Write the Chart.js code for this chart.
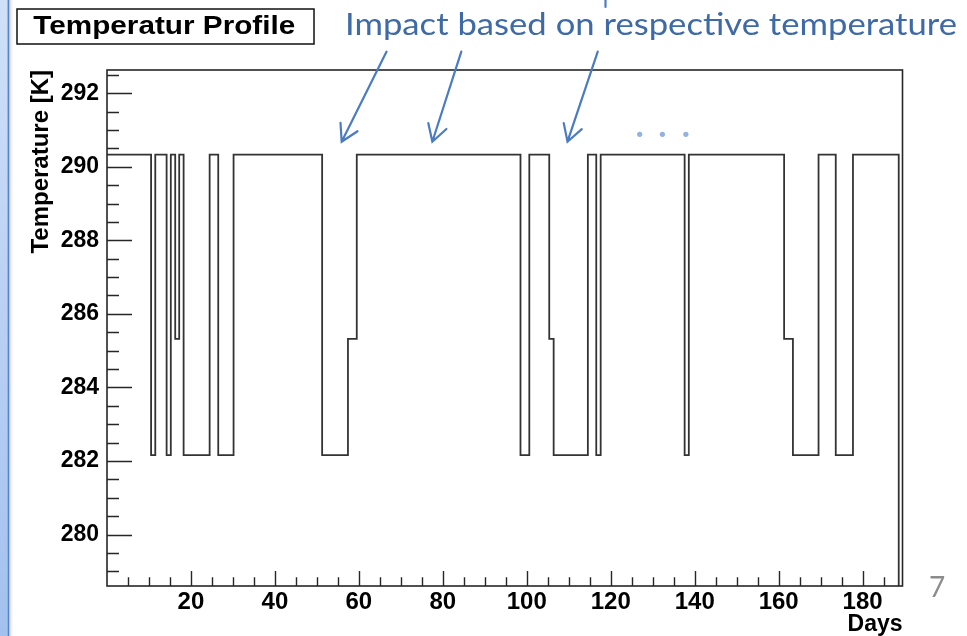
<!DOCTYPE html>
<html>
<head>
<meta charset="utf-8">
<title>Temperatur Profile</title>
<style>
  html, body { margin: 0; padding: 0; background: #fff; }
  canvas { display: block; }
</style>
<script src="https://cdn.jsdelivr.net/npm/chart.js@4.4.1/dist/chart.umd.min.js"></script>
</head>
<body>
<canvas id="profile" width="967" height="636"></canvas>
<script>
// Step profile: each temperature holds from its start day until the next start day.
const dayStarts = [0, 10.5, 11.5, 14.2, 15.2, 16.25, 17.2, 18.25, 24.45, 26.5, 30.15,
  51.25, 57.4, 59.5, 98.5, 100.6, 105.35, 106.4, 114.55, 116.55, 117.6,
  137.6, 138.6, 161.3, 163.4, 169.5, 173.6, 177.7, 188.6];
const temperatures = [290.33, 282.16, 290.33, 282.16, 290.33, 285.32, 290.33, 282.16, 290.33, 282.16, 290.33,
  282.16, 285.32, 290.33, 282.16, 290.33, 285.32, 282.16, 290.33, 282.16, 290.33,
  282.16, 290.33, 285.32, 282.16, 290.33, 282.16, 290.33, 0];
const lastDay = 189.5;

// Axis ranges and labelled ticks
const xRange = [0, 189.5];
const yRange = [278.6, 292.63];
const xTicks = [20, 40, 60, 80, 100, 120, 140, 160, 180];
const yTicks = [280, 282, 284, 286, 288, 290, 292];
const xMinorStep = 5;
const yMinorStep = 0.5;

// Texts
const chartTitle = 'Temperatur Profile';
const xTitle = 'Days';
const yTitle = 'Temperature [K]';
const noteText = 'Impact based on respective temperature';
const pageNumber = '7';

// Callout arrows in axis units: [fromDay, fromK, toDay, toK]
const noteArrows = [
  [66.6, 293.13, 55.9, 290.68],
  [84.4, 293.13, 77.5, 290.68],
  [116.9, 293.13, 109.7, 290.68]
];
const ellipsisDays = [126.9, 132.3, 137.9];
const ellipsisK = 290.88;

const points = dayStarts.map((d, i) => ({ x: d, y: temperatures[i] }));
points.push({ x: lastDay, y: temperatures[temperatures.length - 1] });

const ROOT_FONT = 'Liberation Sans, Arial, Helvetica, sans-serif';
const NOTE_FONT = 'Lato, "Open Sans", sans-serif';
const NOTE_BLUE = '#3e6aa6';
const ARROW_BLUE = '#4b7cc1';

function fitText(ctx, text, x, baseline, font, width) {
  ctx.font = font;
  const w = ctx.measureText(text).width;
  ctx.save();
  ctx.translate(x, baseline);
  ctx.scale(width / w, 1);
  ctx.textAlign = 'left';
  ctx.textBaseline = 'alphabetic';
  ctx.fillText(text, 0, 0);
  ctx.restore();
}

const decorations = {
  id: 'decorations',
  beforeDraw(chart) {
    const ctx = chart.ctx;
    ctx.save();
    ctx.fillStyle = '#fff';
    ctx.fillRect(0, 0, chart.width, chart.height);
    ctx.restore();
  },
  afterDraw(chart) {
    const { ctx, chartArea: a, scales: { x, y } } = chart;
    ctx.save();

    // frame
    ctx.strokeStyle = '#262626';
    ctx.lineWidth = 1.6;
    ctx.strokeRect(a.left, a.top, a.right - a.left, a.bottom - a.top);

    // inward tick marks, left axis
    ctx.lineWidth = 1.4;
    ctx.beginPath();
    for (let v = Math.ceil(yRange[0] / yMinorStep) * yMinorStep; v <= yRange[1]; v += yMinorStep) {
      const py = Math.round(y.getPixelForValue(v)) + 0.5;
      const len = yTicks.includes(Math.round(v * 100) / 100) ? 25 : 12;
      ctx.moveTo(a.left, py);
      ctx.lineTo(a.left + len, py);
    }
    // inward tick marks, bottom axis
    for (let v = xMinorStep; v < xRange[1]; v += xMinorStep) {
      const px = Math.round(x.getPixelForValue(v)) + 0.5;
      const len = xTicks.includes(v) ? 15 : 8.7;
      ctx.moveTo(px, a.bottom);
      ctx.lineTo(px, a.bottom - len);
    }
    ctx.stroke();

    // title box
    ctx.fillStyle = '#fff';
    ctx.fillRect(17, 9, 297, 35);
    ctx.strokeStyle = '#111';
    ctx.lineWidth = 1.5;
    ctx.strokeRect(17, 9, 297, 35);
    ctx.fillStyle = '#000';
    fitText(ctx, chartTitle, 33.3, 33.6, 'bold 26px ' + ROOT_FONT, 262);

    // callout text
    ctx.fillStyle = NOTE_BLUE;
    fitText(ctx, noteText, 345, 35, '31.5px ' + NOTE_FONT, 612);

    // callout arrows
    ctx.strokeStyle = ARROW_BLUE;
    ctx.lineWidth = 2.2;
    ctx.lineCap = 'round';
    noteArrows.forEach(([d0, k0, d1, k1]) => {
      const x0 = x.getPixelForValue(d0), y0 = y.getPixelForValue(k0);
      const x1 = x.getPixelForValue(d1), y1 = y.getPixelForValue(k1);
      const ang = Math.atan2(y0 - y1, x0 - x1);
      const head = 19, spread = Math.PI / 6;
      ctx.beginPath();
      ctx.moveTo(x0, y0);
      ctx.lineTo(x1, y1);
      ctx.moveTo(x1 + head * Math.cos(ang - spread), y1 + head * Math.sin(ang - spread));
      ctx.lineTo(x1, y1);
      ctx.lineTo(x1 + head * Math.cos(ang + spread), y1 + head * Math.sin(ang + spread));
      ctx.stroke();
    });
    ctx.beginPath();
    ctx.moveTo(605.5, 0);
    ctx.lineTo(605.5, 7);
    ctx.stroke();

    // ellipsis dots
    ctx.fillStyle = '#93b2de';
    ellipsisDays.forEach(d => {
      ctx.beginPath();
      ctx.arc(x.getPixelForValue(d), y.getPixelForValue(ellipsisK), 2.6, 0, Math.PI * 2);
      ctx.fill();
    });

    // page number
    ctx.fillStyle = '#8c8c8c';
    ctx.font = '28px ' + NOTE_FONT;
    ctx.textAlign = 'left';
    ctx.textBaseline = 'alphabetic';
    ctx.fillText(pageNumber, 929, 597);

    // left slide edge
    const g = ctx.createLinearGradient(0, 0, 0, chart.height);
    g.addColorStop(0, '#d0e0f8');
    g.addColorStop(1, '#a3c1ef');
    ctx.fillStyle = g;
    ctx.fillRect(0, 0, 7.5, chart.height);
    ctx.fillStyle = '#5683c6';
    ctx.fillRect(7.5, 0, 2, chart.height);
    const s = ctx.createLinearGradient(9.5, 0, 14, 0);
    s.addColorStop(0, '#cfcfcf');
    s.addColorStop(1, 'rgba(255,255,255,0)');
    ctx.fillStyle = s;
    ctx.fillRect(9.5, 0, 4.5, chart.height);

    ctx.restore();
  }
};

new Chart(document.getElementById('profile'), {
  type: 'line',
  data: {
    datasets: [{
      data: points,
      stepped: true,
      borderColor: '#333333',
      borderWidth: 1.8,
      pointRadius: 0,
      fill: false,
      tension: 0
    }]
  },
  options: {
    responsive: false,
    animation: false,
    devicePixelRatio: 1,
    layout: { padding: { left: 0, top: 70, right: 64.5, bottom: 0 } },
    plugins: {
      legend: { display: false },
      tooltip: { enabled: false },
      title: { display: false }
    },
    scales: {
      x: {
        type: 'linear',
        min: xRange[0],
        max: xRange[1],
        grid: { display: false, drawTicks: false },
        border: { display: false },
        afterBuildTicks: s => { s.ticks = xTicks.map(v => ({ value: v })); },
        afterFit: s => { s.height = 50; },
        ticks: {
          font: { family: ROOT_FONT, weight: 'bold', size: 24 },
          color: '#000',
          padding: 2,
          maxRotation: 0,
          autoSkip: false
        },
        title: {
          display: true,
          text: xTitle,
          align: 'end',
          color: '#000',
          font: { family: ROOT_FONT, weight: 'bold', size: 23, lineHeight: 1 },
          padding: 0
        }
      },
      y: {
        type: 'linear',
        min: yRange[0],
        max: yRange[1],
        grid: { display: false, drawTicks: false },
        border: { display: false },
        afterBuildTicks: s => { s.ticks = yTicks.map(v => ({ value: v })); },
        afterFit: s => { s.width = 107; },
        ticks: {
          font: { family: ROOT_FONT, weight: 'bold', size: 23 },
          color: '#000',
          padding: 8,
          autoSkip: false
        },
        title: {
          display: true,
          text: yTitle,
          align: 'end',
          color: '#000',
          font: { family: ROOT_FONT, weight: 'bold', size: 24, lineHeight: 1.2 },
          padding: { top: 27, bottom: 0 }
        }
      }
    }
  },
  plugins: [decorations]
});
</script>
</body>
</html>
